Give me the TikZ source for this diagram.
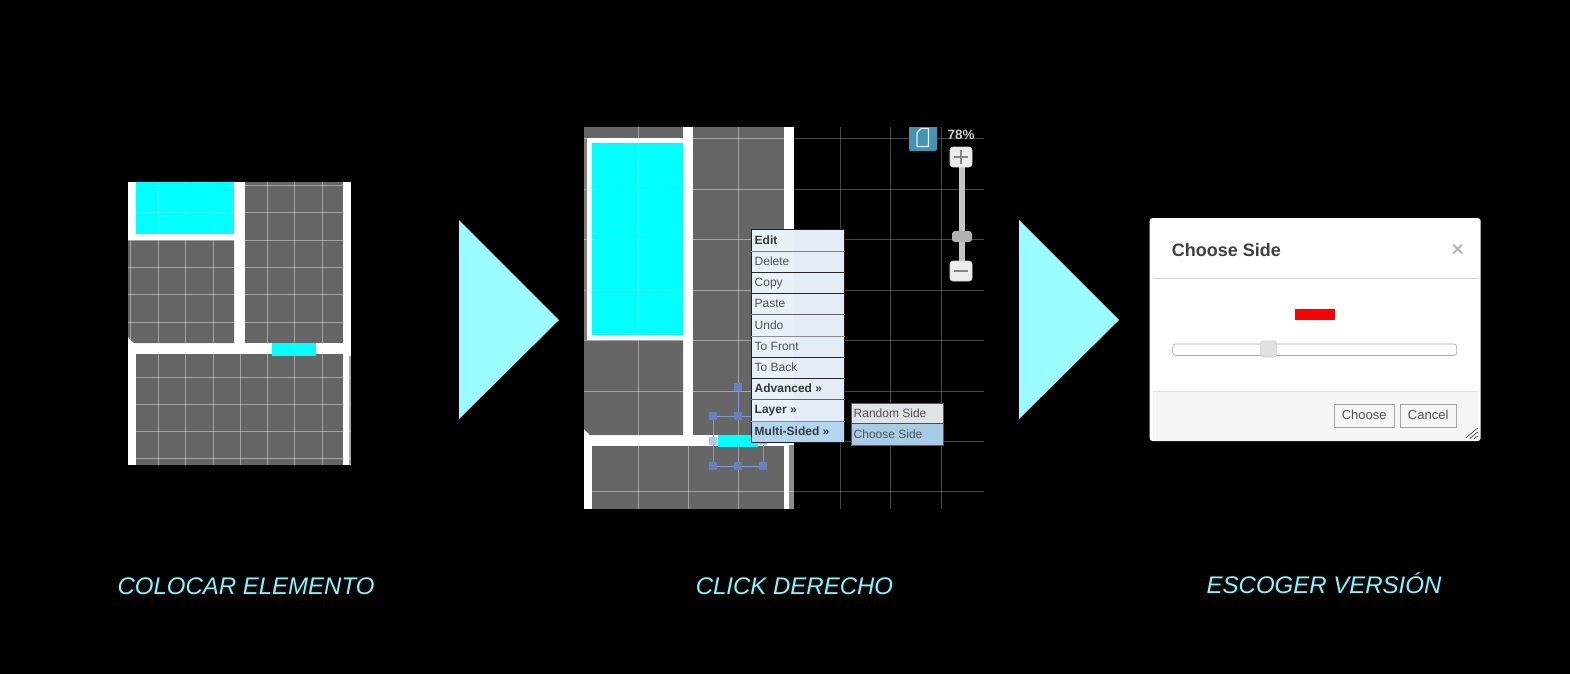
\documentclass[tikz,border=0pt]{standalone}
\usepackage{fontspec}
\usetikzlibrary{calc}
\setmainfont{Liberation Sans}
\definecolor{purecyan}{HTML}{00FFFF}
\definecolor{tilegray}{HTML}{666666}
\definecolor{arrowcyan}{HTML}{9BFCFF}
\definecolor{labelcyan}{HTML}{7FF9FF}
\definecolor{menufill}{HTML}{E4EDF6}
\definecolor{menufillb}{HTML}{E8F0F8}
\definecolor{menuhi}{HTML}{B2D6F2}
\definecolor{subfill}{HTML}{DFE3E8}
\definecolor{subhi}{HTML}{A9CCE6}
\definecolor{handle}{HTML}{6482C0}
\definecolor{handleline}{HTML}{7F9AD0}
\definecolor{handlelight}{HTML}{B4C2EC}
\definecolor{iconblue}{HTML}{4393B5}
\definecolor{zoomgray}{HTML}{C4C4C4}
\tikzset{
  gridline/.style={draw=white,draw opacity=.4,line width=1pt},
  darkgridline/.style={draw=white,draw opacity=.27,line width=1pt},
  stepcaption/.style={text=labelcyan,font=\fontsize{24}{28}\selectfont\itshape,inner sep=0pt},
  bigarrow/.style={fill=arrowcyan},
  cyanveil/.style={fill=purecyan,opacity=.6},
  menuitem/.style={anchor=base west,inner sep=0pt,text=black!68,font=\fontsize{12}{14}\selectfont},
  menubold/.style={anchor=base west,inner sep=0pt,text=black!78,font=\fontsize{12}{14}\selectfont\bfseries},
  zoombtn/.style={fill=black!7,draw=black!15,line width=.6pt,rounded corners=3pt},
  handlebox/.style={fill=handle},
  dlgbtn/.style={fill=black!4,draw=black!35,line width=.8pt},
  dlgtext/.style={inner sep=0pt,text=black!68,font=\fontsize{13}{15}\selectfont}
}
\begin{document}
\begin{tikzpicture}[x=1pt,y=-1pt]
\useasboundingbox (0,0) rectangle (1570,673);
\fill[black] (-5,-5) rectangle (1575,678);
%% ---- left panel
\fill[white] (128,182) rectangle (351,465);
\fill[purecyan] (136,182) rectangle (234,234);
\fill[tilegray] (128,240) -- (234,240) -- (234,343) -- (134,343) -- (128,337) -- cycle;
\fill[tilegray] (245,182) rectangle (343,343);
\fill[tilegray] (136,354) rectangle (343,465);
\fill[black!35] (349,356) rectangle (351,465);
\fill[purecyan] (272,343) rectangle (316,356);
\foreach \x in {130,158,185,213,240,267,294,322}{\draw[gridline] (\x,182) -- (\x,465);}
\foreach \y in {185,212,240,267,294,322,377,404,431,458}{\draw[gridline] (128,\y) -- (351,\y);}
\fill[cyanveil] (136,182) rectangle (234,234);
\fill[cyanveil] (272,343) rectangle (316,356);
%% ---- middle panel
\fill[white] (584,127) rectangle (794,509);
\fill[tilegray] (584,127) rectangle (683,138);
\fill[black!50] (584,138) rectangle (587,340);
\fill[purecyan] (592,143) rectangle (683,335);
\fill[tilegray] (584,340) -- (683,340) -- (683,435) -- (590,435) -- (584,429) -- cycle;
\fill[tilegray] (693,127) rectangle (784,435);
\fill[tilegray] (592,446) rectangle (784,509);
\fill[black!45] (789,445) rectangle (794,509);
\fill[purecyan] (718,435) rectangle (758,446.5);
\foreach \x in {638,688,738}{\draw[gridline] (\x,127) -- (\x,509);}
\foreach \x in {840,890,941}{\draw[darkgridline] (\x,127) -- (\x,509);}
\foreach \y in {138,189,239,290,340,391,441,491}{
  \draw[gridline] (584,\y) -- (794,\y);
  \draw[darkgridline] (794,\y) -- (984,\y);}
\fill[cyanveil] (592,143) rectangle (683,335);
\fill[cyanveil] (718,435) rectangle (758,446.5);
%% selection handles
\draw[handleline,line width=1pt] (713,416) rectangle (763,466);
\draw[handleline,line width=1pt] (738,387) -- (738,416);
\foreach \p/\q in {738/387,713/416,738/416,713/466,738/466,763/466}{\fill[handlebox] (\p-4,\q-4) rectangle (\p+4,\q+4);}
\fill[handlelight] (709,437) rectangle (717,445);
\fill[handlelight] (759,437) rectangle (767,445);
%% zoom widgets
\fill[iconblue,rounded corners=2pt] (909,120) rectangle (937,151);
\fill[black] (900,120) rectangle (945,127);
\draw[white!85!iconblue,line width=1.4pt,line join=round] (917,133) -- (921,128.5) -- (928.5,128.5) -- (928.5,146.5) -- (917,146.5) -- cycle;
\node[inner sep=0pt,text=black!20,font=\fontsize{13.5}{16}\selectfont\bfseries] (zoompct) at (961,135) {78\%};
\fill[zoomgray] (959,167) rectangle (965,261);
\node[zoombtn,minimum width=22pt,minimum height=20pt,inner sep=0pt] (plusbtn) at (961,157) {};
\fill[black!48] ($(plusbtn)+(-7,-1.2)$) rectangle ($(plusbtn)+(7,1.2)$);
\fill[black!48] ($(plusbtn)+(-1.2,-7)$) rectangle ($(plusbtn)+(1.2,7)$);
\fill[black!30,rounded corners=3pt] (952,231) rectangle (972,242);
\node[zoombtn,minimum width=22pt,minimum height=20pt,inner sep=0pt] (minusbtn) at (961,271) {};
\fill[black!48] ($(minusbtn)+(-7,-1.2)$) rectangle ($(minusbtn)+(7,1.2)$);
%% context menu
\fill[menufill] (751,229) rectangle (845,442);
\fill[menufillb] (751,229) rectangle (794,421);
\fill[menuhi] (751,421) rectangle (845,442);
\draw[black!88,line width=1pt] (751,229.5) rectangle (844.5,442);
\foreach \y/\c in {251/50,272/85,293/85,314/60,336/45,357/85,378/85,399/60,421/45}{\draw[black!\c,line width=1pt] (751,\y) -- (845,\y);}
\node[menubold] (mEdit) at (754.5,244.3) {Edit};
\node[menuitem] (mDelete) at (754.5,265.3) {Delete};
\node[menuitem] (mCopy) at (754.5,286.5) {Copy};
\node[menuitem] (mPaste) at (754.5,307.5) {Paste};
\node[menuitem] (mUndo) at (754.5,329) {Undo};
\node[menuitem] (mFront) at (754.5,350.3) {To Front};
\node[menuitem] (mBack) at (754.5,371.5) {To Back};
\node[menubold] (mAdv) at (754.5,392.5) {Advanced »};
\node[menubold] (mLayer) at (754.5,413.7) {Layer »};
\node[menubold] (mMulti) at (754.5,435) {Multi-Sided »};
%% submenu
\fill[subfill] (851,403) rectangle (943,423.5);
\fill[subhi] (851,423.5) rectangle (943,445);
\draw[black!65,line width=.8pt] (851,403) rectangle (943,445);
\draw[black!70,line width=.8pt] (851,423.5) -- (943,423.5);
\node[menuitem] (sRandom) at (853.5,417) {Random Side};
\node[menuitem] (sChoose) at (853.5,438) {Choose Side};
%% ---- dialog
\begin{scope}[xshift=1.7pt]
\fill[white,rounded corners=3pt] (1148,218) rectangle (1479,441);
\fill[black!4] (1151,392) rectangle (1476,441);
\draw[black!18,line width=1pt] (1151,278) -- (1476,278);
\draw[black!12,line width=1pt] (1151,391.5) -- (1476,391.5);
\node[anchor=west,inner sep=0pt,text=black!75,font=\fontsize{18}{20}\selectfont\bfseries] (dlgTitle) at (1170,250) {Choose Side};
\node[inner sep=0pt,text=black!28,font=\fontsize{21}{22}\selectfont\bfseries] (dlgClose) at (1456,250) {×};
\fill[red] (1293,309) rectangle (1333,320);
\draw[fill=white,draw=black!33,line width=.7pt,rounded corners=3pt] (1171,344) rectangle (1455,355.5);
\draw[fill=black!12,draw=black!20,line width=.8pt,rounded corners=3pt] (1259,341) rectangle (1275,357);
\draw[dlgbtn] (1332.5,404) rectangle (1392.5,427);
\node[dlgtext] (btnChoose) at (1362.5,415) {Choose};
\draw[dlgbtn] (1398.5,404) rectangle (1454.5,427);
\node[dlgtext] (btnCancel) at (1426.5,415) {Cancel};
\draw[black!80,line width=.6pt] (1464,438) -- (1476,428) (1468,438.5) -- (1476,432) (1472,439) -- (1476,436);
\end{scope}
%% ---- arrows
\fill[bigarrow] (459,220) -- (559,320) -- (459,419) -- cycle;
\fill[bigarrow] (1019,220) -- (1119,320) -- (1019,419) -- cycle;
%% ---- captions
\node[stepcaption] (cap1) at (246,586) {COLOCAR ELEMENTO};
\node[stepcaption] (cap2) at (794.5,586) {CLICK DERECHO};
\node[stepcaption] (cap3) at (1324,583) {ESCOGER VERSIÓN};
\end{tikzpicture}
\end{document}
